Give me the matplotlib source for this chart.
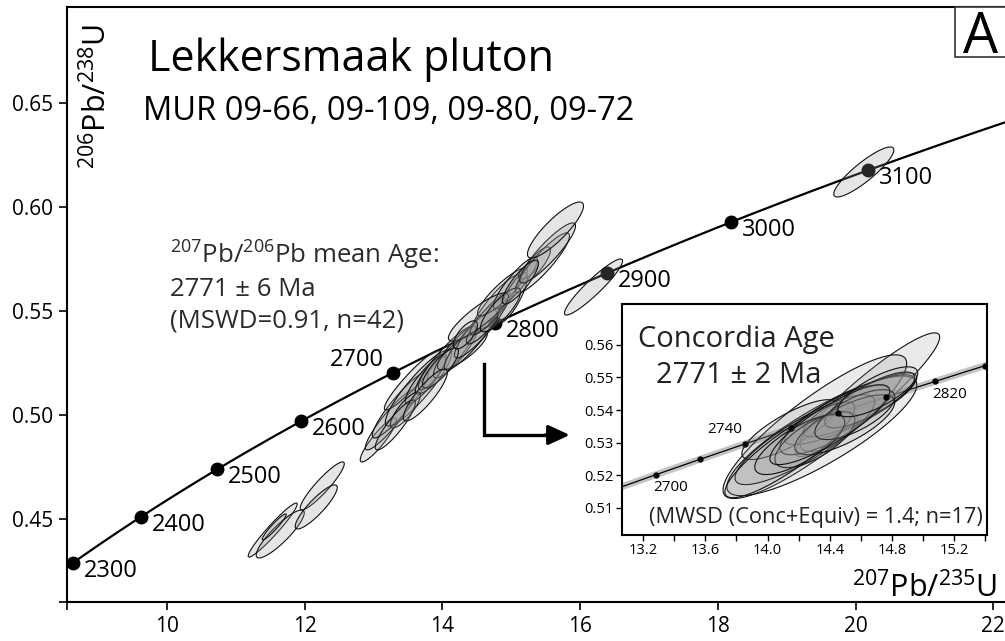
import numpy as np
import matplotlib
matplotlib.use('Agg')
import matplotlib.pyplot as plt
from matplotlib.patches import Polygon, Rectangle

plt.rcParams['font.family'] = ['Open Sans', 'DejaVu Sans']
plt.rcParams['mathtext.fontset'] = 'custom'
plt.rcParams['mathtext.rm'] = 'Open Sans'
plt.rcParams['mathtext.it'] = 'Open Sans:italic'
plt.rcParams['mathtext.bf'] = 'Open Sans:bold'

# ---------------- data ----------------
LAMBDA_238 = 1.55125e-10   # decay constants (1/yr)
LAMBDA_235 = 9.8485e-10

main_marker_ages = [2300, 2400, 2500, 2600, 2700, 2800, 2900, 3000, 3100]
inset_marker_ages = [2700, 2720, 2740, 2760, 2780, 2800, 2820, 2840]
inset_labeled_ages = [2700, 2740, 2820]

main_xticks = [10, 12, 14, 16, 18, 20, 22]
main_yticks = [0.45, 0.50, 0.55, 0.60, 0.65]
inset_xticks_major = [13.2, 13.6, 14.0, 14.4, 14.8, 15.2]
inset_yticks = [0.51, 0.52, 0.53, 0.54, 0.55, 0.56]

# main-plot error ellipses: centre (207Pb/235U, 206Pb/238U), half-extents, correlation
main_ell_x = [11.537, 11.646, 11.559, 12.256, 12.169,
              13.070, 13.245, 13.390, 13.565, 13.652, 13.753, 13.855, 14.044,
              14.190, 14.291, 14.408, 14.553, 14.669, 14.771, 14.873, 15.018,
              15.062, 15.251, 15.352, 15.454, 15.527, 15.643, 14.524, 13.972,
              13.463, 14.335, 14.844, 13.317, 13.753, 15.134,
              16.195, 20.120]
main_ell_y = [0.4446, 0.4427, 0.4461, 0.4658, 0.4557,
              0.4879, 0.4975, 0.5047, 0.5167, 0.5129, 0.5167, 0.5206, 0.5263,
              0.5302, 0.5312, 0.5360, 0.5417, 0.5465, 0.5528, 0.5590, 0.5562,
              0.5634, 0.5696, 0.5720, 0.5730, 0.5778, 0.5888, 0.5470, 0.5225,
              0.5023, 0.5384, 0.5504, 0.4951, 0.5095, 0.5638,
              0.5614, 0.6167]
main_ell_ex = [0.356, 0.349, 0.174, 0.320, 0.305,
               0.262, 0.363, 0.407, 0.407, 0.480, 0.291, 0.203, 0.436,
               0.320, 0.363, 0.378, 0.378, 0.320, 0.363, 0.363, 0.218,
               0.320, 0.145, 0.218, 0.392, 0.407, 0.407, 0.436, 0.262,
               0.218, 0.174, 0.291, 0.291, 0.320, 0.262,
               0.422, 0.436]
main_ell_ey = [0.01298, 0.01154, 0.00625, 0.01154, 0.01058,
               0.01058, 0.01442, 0.01587, 0.01442, 0.01827, 0.01154, 0.00865, 0.01635,
               0.01250, 0.00962, 0.01442, 0.01442, 0.01250, 0.01442, 0.01154, 0.01202,
               0.01250, 0.00433, 0.00865, 0.01442, 0.01442, 0.01346, 0.01154, 0.00962,
               0.00865, 0.00673, 0.01058, 0.01200, 0.01250, 0.01058,
               0.01346, 0.01202]
main_ell_rho = [0.96, 0.88, 0.95, 0.92, 0.88,
                0.90, 0.92, 0.92, 0.94, 0.90, 0.87, 0.82, 0.91,
                0.87, 0.82, 0.90, 0.90, 0.89, 0.90, 0.89, 0.82,
                0.89, 0.70, 0.82, 0.90, 0.90, 0.86, 0.87, 0.82,
                0.82, 0.70, 0.82, 0.89, 0.87, 0.85,
                0.93, 0.88]

# inset (concordant analyses) ellipses
inset_ell_x = [14.644, 14.304, 14.349, 14.143, 14.394, 14.528, 14.593, 14.240, 14.143,
               14.432, 14.657, 14.304, 14.496, 14.207, 14.561, 14.400, 14.708]
inset_ell_y = [0.5447, 0.5349, 0.5321, 0.5340, 0.5334, 0.5401, 0.5416, 0.5309, 0.5278,
               0.5370, 0.5431, 0.5309, 0.5355, 0.5294, 0.5386, 0.5355, 0.5456]
inset_ell_ex = [0.462, 0.590, 0.610, 0.308, 0.186, 0.417, 0.366, 0.449, 0.417,
                0.353, 0.289, 0.257, 0.321, 0.289, 0.257, 0.385, 0.257]
inset_ell_ey = [0.01896, 0.02202, 0.01835, 0.00917, 0.00612, 0.01070, 0.00979, 0.01376, 0.01468,
                0.01070, 0.00856, 0.00856, 0.00917, 0.00917, 0.00765, 0.01223, 0.00765]
inset_ell_rho = [0.93, 0.88, 0.85, 0.80, 0.60, 0.85, 0.85, 0.85, 0.88,
                 0.80, 0.80, 0.70, 0.75, 0.75, 0.70, 0.85, 0.75]


# ---------------- helpers ----------------
def concordia(age_ma):
    t = np.asarray(age_ma, dtype=float) * 1e6
    return np.exp(LAMBDA_235 * t) - 1.0, np.exp(LAMBDA_238 * t) - 1.0


def ellipse_xy(cx, cy, ex, ey, rho, n=120):
    t = np.linspace(0, 2 * np.pi, n)
    x = cx + ex * np.cos(t)
    y = cy + ey * (rho * np.cos(t) + np.sqrt(1 - rho ** 2) * np.sin(t))
    return np.column_stack([x, y])


W, H = 1005, 641


def fpx(x, y):
    return x / W, 1 - y / H


fig = plt.figure(figsize=(W / 100, H / 100), dpi=100)
ax = fig.add_axes([67 / W, (H - 602) / H, (W - 67) / W, 595 / H])
ax.set_xlim(8.55, 22.17)
ax.set_ylim(0.410, 0.696)

for s in ['left', 'bottom', 'top']:
    ax.spines[s].set_linewidth(1.5)
ax.spines['right'].set_visible(False)
ax.set_xticks([8.55] + main_xticks)
ax.set_xticklabels([''] + [str(v) for v in main_xticks])
ax.set_yticks([0.410] + main_yticks)
ax.set_yticklabels([''] + ['%.2f' % v for v in main_yticks])
ax.tick_params(direction='out', length=6, width=1.2, labelsize=15, pad=4)

# concordia curve
ages_curve = np.linspace(2200, 3300, 400)
cx, cy = concordia(ages_curve)
ax.plot(cx, cy, color='black', lw=1.6, zorder=2, solid_capstyle='butt')
mx, my = concordia(main_marker_ages)
ax.plot(mx, my, 'o', color='black', ms=9, zorder=2)
for a, x, y in zip(main_marker_ages, mx, my):
    if a == 2700:
        ax.annotate(str(a), (x, y), xytext=(-9, 13), textcoords='offset pixels',
                    ha='right', va='center', fontsize=17)
    else:
        ax.annotate(str(a), (x, y), xytext=(11, -8), textcoords='offset pixels',
                    ha='left', va='center', fontsize=17)

# ellipses
for x, y, ex, ey, r in zip(main_ell_x, main_ell_y, main_ell_ex, main_ell_ey, main_ell_rho):
    ax.add_patch(Polygon(ellipse_xy(x, y, ex, ey, r), closed=True,
                         facecolor=(0.6, 0.6, 0.6, 0.25), edgecolor='#111111',
                         lw=0.8, zorder=3))

# texts
fig.text(*fpx(148, 71), 'Lekkersmaak pluton', fontsize=31, va='baseline')
fig.text(*fpx(143, 120), 'MUR 09-66, 09-109, 09-80, 09-72', fontsize=23.5, va='baseline')
txt_col = '#2b2b2b'
fig.text(*fpx(170, 264), r'$^{207}$Pb/$^{206}$Pb mean Age:', fontsize=18.5, va='baseline', color=txt_col)
fig.text(*fpx(170, 296), '2771 \u00b1 6 Ma', fontsize=18.5, va='baseline', color=txt_col)
fig.text(*fpx(170, 328), '(MSWD=0.91, n=42)', fontsize=18.5, va='baseline', color=txt_col)

fig.text(*fpx(97, 24), r'$^{206}$Pb/$^{238}$U', fontsize=22, rotation=90,
         ha='center', va='top')
fig.text(*fpx(997, 597), r'$^{207}$Pb/$^{235}$U', fontsize=22, ha='right', va='baseline')

# panel letter
fig.add_artist(Rectangle(fpx(955, 57), 60 / W, 50 / H, transform=fig.transFigure,
                         facecolor='white', edgecolor='#333333', lw=1.2))
fig.text(*fpx(981, 53), 'A', fontsize=40, ha='center', va='baseline')

# arrow
ax.plot([0.4446, 0.4446, 0.52], [0.400, 0.2807, 0.2807], transform=ax.transAxes,
        color='black', lw=2.4, solid_joinstyle='miter', zorder=4)
ax.annotate('', xy=(0.536, 0.2807), xytext=(0.51, 0.2807), xycoords='axes fraction',
            arrowprops=dict(arrowstyle='-|>,head_length=1.3,head_width=0.6',
                            color='black', lw=2.4, shrinkA=0, shrinkB=0), zorder=4)

# ---------------- inset ----------------
ia = fig.add_axes([622 / W, (H - 535) / H, (987 - 622) / W, (535 - 304) / H])
ia.set_xlim(13.065, 15.41)
ia.set_ylim(0.5017, 0.5725)
for s in ia.spines.values():
    s.set_linewidth(1.5)
ia.set_xticks(inset_xticks_major)
ia.set_xticklabels(['%.1f' % v for v in inset_xticks_major])
ia.set_xticks(np.arange(13.4, 15.41, 0.4), minor=True)
ia.set_yticks(inset_yticks)
ia.set_yticklabels(['%.2f' % v for v in inset_yticks])
ia.tick_params(direction='out', length=4, width=1, labelsize=10.5, pad=2)
ia.tick_params(which='minor', direction='out', length=4, width=1)

ages_in = np.linspace(2680, 2860, 200)
icx, icy = concordia(ages_in)
ia.plot(icx, icy, color='#c4c4c4', lw=5, zorder=1, solid_capstyle='butt')
ia.plot(icx, icy, color='black', lw=0.9, zorder=1)

for x, y, ex, ey, r in zip(inset_ell_x, inset_ell_y, inset_ell_ex, inset_ell_ey, inset_ell_rho):
    ia.add_patch(Polygon(ellipse_xy(x, y, ex, ey, r), closed=True,
                         facecolor=(0.6, 0.6, 0.6, 0.2), edgecolor='#111111',
                         lw=0.8, zorder=2))

imx, imy = concordia(inset_marker_ages)
ia.plot(imx, imy, 'o', color='black', ms=3.5, zorder=3)
for a, x, y in zip(inset_marker_ages, imx, imy):
    if a not in inset_labeled_ages:
        continue
    if a == 2740:
        ia.annotate(str(a), (x, y), xytext=(-3, 14), textcoords='offset pixels',
                    ha='right', va='center', fontsize=11)
    else:
        ia.annotate(str(a), (x, y), xytext=(-3, -13), textcoords='offset pixels',
                    ha='left', va='center', fontsize=11)

ia.text(0.045, 0.845, 'Concordia Age', transform=ia.transAxes, fontsize=21,
        va='center', color='#222222')
ia.text(0.092, 0.69, '2771 \u00b1 2 Ma', transform=ia.transAxes, fontsize=21,
        va='center', color='#222222')
ia.text(0.988, 0.075, '(MWSD (Conc+Equiv) = 1.4; n=17)', transform=ia.transAxes,
        fontsize=15.7, ha='right', va='center', color='#222222')

fig.savefig('out.png', dpi=100)
